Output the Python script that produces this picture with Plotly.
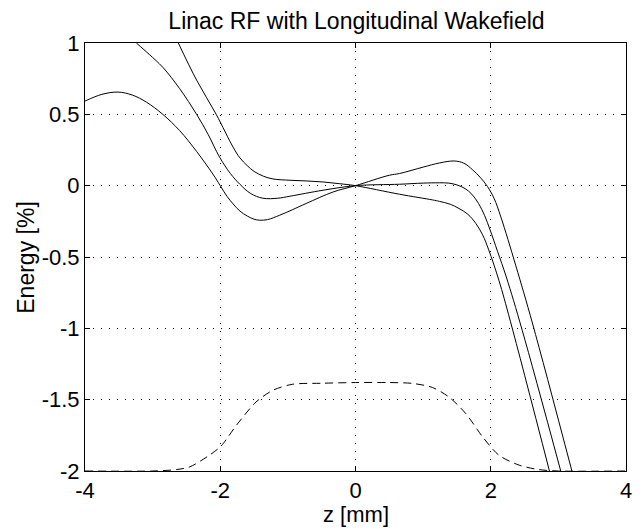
import plotly.graph_objects as go

# ---------------------------------------------------------------------------
# Data
# ---------------------------------------------------------------------------

# curve that is lowest on the left and highest on the right
z_a = [-4.0, -3.75, -3.51, -3.3, -3.09, -2.85, -2.6, -2.35, -2.11, -2.0,
       -1.9, -1.81, -1.71, -1.6, -1.5, -1.42, -1.3, -1.12, -0.93, -0.73,
       -0.33, 0.0, 0.5, 0.65, 1.0, 1.24, 1.46, 1.6, 1.73, 1.85,
       1.95, 2.05, 2.15, 2.37, 2.62, 3.2]
e_a = [0.593, 0.64, 0.656, 0.635, 0.585, 0.5, 0.386, 0.24, 0.082, 0.0,
       -0.075, -0.128, -0.178, -0.213, -0.235, -0.242, -0.238, -0.207, -0.168, -0.125,
       -0.044, 0.0, 0.073, 0.085, 0.13, 0.159, 0.173, 0.158, 0.112, 0.055,
       -0.005, -0.09, -0.22, -0.56, -0.97, -2.0]

# middle curve
z_b = [-3.24, -3.05, -2.85, -2.6, -2.35, -2.18, -2.01, -1.85, -1.71, -1.55,
       -1.37, -1.15, -0.97, -0.48, 0.0, 0.65, 1.0, 1.24, 1.38, 1.5,
       1.62, 1.72, 1.82, 1.91, 1.99, 2.1, 2.23, 2.465, 3.035]
e_b = [1.0, 0.92, 0.83, 0.68, 0.5, 0.36, 0.2, 0.085, 0.01, -0.055,
       -0.088, -0.088, -0.074, -0.032, 0.0, 0.01, 0.018, 0.02, 0.018, 0.005,
       -0.02, -0.06, -0.125, -0.21, -0.31, -0.46, -0.64, -1.013, -2.0]

# curve that is highest on the left and lowest on the right
z_c = [-2.62, -2.35, -2.06, -1.81, -1.71, -1.6, -1.5, -1.36, -1.22, -0.97,
       -0.72, -0.48, -0.24, 0.0, 0.65, 1.14, 1.24, 1.4, 1.53, 1.66,
       1.78, 1.88, 1.97, 2.12, 2.29, 2.868]
e_c = [1.0, 0.74, 0.5, 0.27, 0.195, 0.14, 0.1, 0.066, 0.047, 0.038,
       0.033, 0.026, 0.014, 0.0, -0.06, -0.1, -0.11, -0.13, -0.16, -0.2,
       -0.265, -0.345, -0.45, -0.663, -0.95, -2.0]

# dashed bunch profile
z_bunch = [-4.0, -3.0, -2.65, -2.45, -2.16, -1.99, -1.76, -1.47, -1.22, -0.93,
           -0.5, 0.0, 0.5, 0.84, 1.14, 1.38, 1.63, 1.88, 2.12, 2.42, 2.71, 3.0, 4.0]
e_bunch = [-2.0, -2.0, -1.99, -1.971, -1.889, -1.826, -1.679, -1.516, -1.434, -1.392,
           -1.385, -1.38, -1.38, -1.386, -1.415, -1.481, -1.597, -1.761, -1.889, -1.959, -1.99, -2.0, -2.0]

x_ticks = [-4, -2, 0, 2, 4]
x_labels = ["-4", "-2", "0", "2", "4"]
y_ticks = [1, 0.5, 0, -0.5, -1, -1.5, -2]
y_labels = ["1", "0.5", "0", "-0.5", "-1", "-1.5", "-2"]

FONT = "Liberation Sans, Arial, sans-serif"
W, H = 644, 529
L, R, T, B = 85, 16, 43, 58
PW, PH = W - L - R, H - T - B

fig = go.Figure()

for zs, es in [(z_a, e_a), (z_b, e_b), (z_c, e_c)]:
    fig.add_trace(go.Scatter(
        x=zs, y=es, mode="lines",
        line=dict(color="black", width=1, shape="spline", smoothing=1.0),
        showlegend=False,
    ))

fig.add_trace(go.Scatter(
    x=z_bunch, y=e_bunch, mode="lines",
    line=dict(color="black", width=1, dash="8px,5px", shape="spline", smoothing=0.8),
    showlegend=False,
))

axis_common = dict(
    showline=True, linecolor="black", linewidth=1, mirror="ticks",
    ticks="inside", ticklen=5, tickcolor="black",
    showgrid=True, gridcolor="black", gridwidth=1, griddash="1px,7px",
    zeroline=False,
    tickfont=dict(family=FONT, size=22, color="black"),
)

fig.update_layout(
    width=W, height=H,
    margin=dict(l=L, r=R, t=T, b=B),
    paper_bgcolor="white", plot_bgcolor="white",
    font=dict(family=FONT, size=22, color="black"),
    title=dict(text="Linac RF with Longitudinal Wakefield", x=(L + PW / 2) / W,
               xanchor="center", y=1 - 21 / H, yanchor="middle", yref="container",
               font=dict(family=FONT, size=23, color="black")),
    xaxis=dict(range=[-4, 4], tickvals=x_ticks, ticktext=x_labels, **axis_common),
    yaxis=dict(range=[-2, 1], tickvals=y_ticks, ticktext=y_labels, **axis_common),
    annotations=[
        dict(text="z [mm]", xref="paper", yref="paper", x=0.5, y=-(514 - (T + PH)) / PH,
             xanchor="center", yanchor="middle", showarrow=False,
             font=dict(family=FONT, size=22, color="black")),
        dict(text="Energy [%]", xref="paper", yref="paper", x=(25.5 - L) / PW, y=0.5,
             xanchor="center", yanchor="middle", textangle=-90, showarrow=False,
             font=dict(family=FONT, size=23, color="black")),
    ],
)

# the page body has a default 8px margin; drop it so the figure sits at 0,0
fig.write_html(
    "out.html",
    config={"displayModeBar": False},
    post_script="document.body.style.margin='0';document.body.style.overflow='hidden';",
)
